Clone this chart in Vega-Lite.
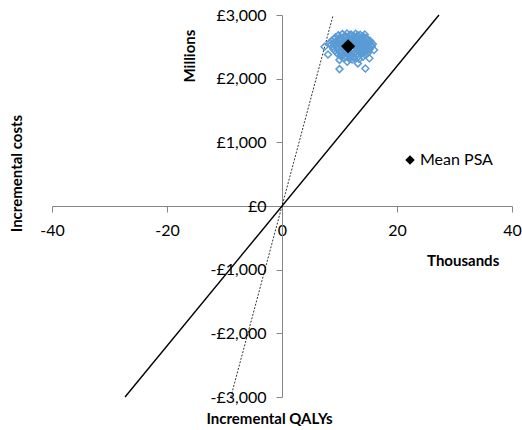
{
  "$schema": "https://vega.github.io/schema/vega-lite/v6.json",
  "width": 460,
  "height": 382,
  "autosize": {"type": "none"},
  "padding": {"left": 52, "top": 15, "right": 10, "bottom": 33},
  "background": "white",
  "config": {"font": "Lato", "view": {"stroke": null}},
  "datasets": {
    "psa": [
      {"qaly": 10.5, "cost": 2700}, {"qaly": 11.3, "cost": 2710}, {"qaly": 12.0, "cost": 2695}, {"qaly": 12.8, "cost": 2705}, {"qaly": 13.6, "cost": 2690},
      {"qaly": 9.8, "cost": 2680}, {"qaly": 11.0, "cost": 2675}, {"qaly": 11.8, "cost": 2685}, {"qaly": 12.5, "cost": 2670}, {"qaly": 13.2, "cost": 2680}, {"qaly": 14.1, "cost": 2665},
      {"qaly": 9.3, "cost": 2650}, {"qaly": 10.2, "cost": 2645}, {"qaly": 10.9, "cost": 2655}, {"qaly": 11.6, "cost": 2640}, {"qaly": 12.3, "cost": 2650}, {"qaly": 13.0, "cost": 2660}, {"qaly": 13.8, "cost": 2645}, {"qaly": 14.6, "cost": 2640},
      {"qaly": 9.0, "cost": 2620}, {"qaly": 9.8, "cost": 2615}, {"qaly": 10.5, "cost": 2625}, {"qaly": 11.2, "cost": 2610}, {"qaly": 12.0, "cost": 2620}, {"qaly": 12.7, "cost": 2630}, {"qaly": 13.4, "cost": 2615}, {"qaly": 14.2, "cost": 2620}, {"qaly": 15.0, "cost": 2605},
      {"qaly": 8.6, "cost": 2590}, {"qaly": 9.4, "cost": 2585}, {"qaly": 10.1, "cost": 2595}, {"qaly": 10.8, "cost": 2580}, {"qaly": 11.5, "cost": 2590}, {"qaly": 12.2, "cost": 2600}, {"qaly": 12.9, "cost": 2585}, {"qaly": 13.7, "cost": 2590}, {"qaly": 14.5, "cost": 2580}, {"qaly": 15.3, "cost": 2595},
      {"qaly": 8.3, "cost": 2560}, {"qaly": 9.1, "cost": 2555}, {"qaly": 9.8, "cost": 2565}, {"qaly": 10.6, "cost": 2550}, {"qaly": 11.3, "cost": 2560}, {"qaly": 12.0, "cost": 2570}, {"qaly": 12.8, "cost": 2555}, {"qaly": 13.5, "cost": 2560}, {"qaly": 14.3, "cost": 2550}, {"qaly": 15.1, "cost": 2565}, {"qaly": 15.8, "cost": 2545},
      {"qaly": 8.5, "cost": 2530}, {"qaly": 9.3, "cost": 2525}, {"qaly": 10.0, "cost": 2535}, {"qaly": 10.8, "cost": 2520}, {"qaly": 11.6, "cost": 2530}, {"qaly": 12.4, "cost": 2540}, {"qaly": 13.1, "cost": 2525}, {"qaly": 13.9, "cost": 2530}, {"qaly": 14.7, "cost": 2520}, {"qaly": 15.5, "cost": 2535},
      {"qaly": 8.8, "cost": 2500}, {"qaly": 9.6, "cost": 2495}, {"qaly": 10.4, "cost": 2505}, {"qaly": 11.1, "cost": 2490}, {"qaly": 11.9, "cost": 2500}, {"qaly": 12.6, "cost": 2510}, {"qaly": 13.4, "cost": 2495}, {"qaly": 14.1, "cost": 2500}, {"qaly": 14.9, "cost": 2490}, {"qaly": 15.6, "cost": 2505},
      {"qaly": 8.9, "cost": 2470}, {"qaly": 9.7, "cost": 2465}, {"qaly": 10.5, "cost": 2475}, {"qaly": 11.3, "cost": 2460}, {"qaly": 12.1, "cost": 2470}, {"qaly": 12.9, "cost": 2480}, {"qaly": 13.6, "cost": 2465}, {"qaly": 14.4, "cost": 2470}, {"qaly": 15.2, "cost": 2460},
      {"qaly": 9.2, "cost": 2440}, {"qaly": 10.0, "cost": 2435}, {"qaly": 10.8, "cost": 2445}, {"qaly": 11.6, "cost": 2430}, {"qaly": 12.3, "cost": 2440}, {"qaly": 13.1, "cost": 2450}, {"qaly": 13.9, "cost": 2435}, {"qaly": 14.7, "cost": 2440},
      {"qaly": 9.5, "cost": 2410}, {"qaly": 10.3, "cost": 2405}, {"qaly": 11.1, "cost": 2415}, {"qaly": 11.9, "cost": 2400}, {"qaly": 12.7, "cost": 2410}, {"qaly": 13.4, "cost": 2420}, {"qaly": 14.2, "cost": 2405}, {"qaly": 15.0, "cost": 2410},
      {"qaly": 9.8, "cost": 2380}, {"qaly": 10.6, "cost": 2375}, {"qaly": 11.4, "cost": 2385}, {"qaly": 12.2, "cost": 2370}, {"qaly": 13.0, "cost": 2380}, {"qaly": 13.8, "cost": 2390}, {"qaly": 14.5, "cost": 2375},
      {"qaly": 10.3, "cost": 2350}, {"qaly": 11.1, "cost": 2345}, {"qaly": 11.9, "cost": 2355}, {"qaly": 12.6, "cost": 2340}, {"qaly": 13.3, "cost": 2350}, {"qaly": 14.1, "cost": 2345},
      {"qaly": 10.8, "cost": 2320}, {"qaly": 11.7, "cost": 2315}, {"qaly": 12.5, "cost": 2325}, {"qaly": 13.4, "cost": 2310},
      {"qaly": 7.4, "cost": 2500}, {"qaly": 8.0, "cost": 2380}, {"qaly": 10.0, "cost": 2295}, {"qaly": 10.0, "cost": 2150},
      {"qaly": 11.35, "cost": 2265}, {"qaly": 13.2, "cost": 2240}, {"qaly": 14.5, "cost": 2160}, {"qaly": 16.0, "cost": 2450},
      {"qaly": 15.2, "cost": 2320}, {"qaly": 14.4, "cost": 2695}, {"qaly": 15.2, "cost": 2550}, {"qaly": 12.2, "cost": 2300}
    ]
  },
  "layer": [
    {
      "data": {"values": [{"qaly": -27.3, "cost": -3000}, {"qaly": 27.3, "cost": 3000}]},
      "mark": {"type": "line", "color": "#000000", "strokeWidth": 1.4},
      "encoding": {
        "x": {
          "field": "qaly", "type": "quantitative",
          "scale": {"domain": [-40, 40], "nice": false, "zero": false},
          "axis": {
            "orient": "bottom", "offset": -191, "values": [-40, -20, 0, 20, 40],
            "grid": false, "domainColor": "#868686", "tickColor": "#868686", "tickSize": 6,
            "labelFontSize": 16, "labelColor": "#000000", "labelPadding": 10,
            "labelFlush": false, "labelOverlap": false,
            "labelExpr": "datum.value < 0 ? '-' + abs(datum.value) : '' + datum.value",
            "title": "Incremental QALYs", "titleX": 217, "titleY": 205,
            "titleFontSize": 15, "titleFontWeight": "bold", "titleColor": "#000000"
          }
        },
        "y": {
          "field": "cost", "type": "quantitative",
          "scale": {"domain": [-3000, 3000], "nice": false, "zero": false},
          "axis": {
            "orient": "left", "offset": -230, "values": [-3000, -2000, -1000, 0, 1000, 2000, 3000],
            "grid": false, "domainColor": "#868686", "tickColor": "#868686", "tickSize": 6,
            "labelFontSize": 16, "labelColor": "#000000", "labelPadding": 10,
            "labelFlush": false, "labelOverlap": false,
            "labelExpr": "datum.value < 0 ? '-£' + format(-datum.value, ',') : '£' + format(datum.value, ',')",
            "title": "Incremental costs", "titleX": -258, "titleY": 158,
            "titleFontSize": 15, "titleFontWeight": "bold", "titleColor": "#000000"
          }
        }
      }
    },
    {
      "data": {"values": [{"qaly": -8.9, "cost": -3000}, {"qaly": 8.9, "cost": 3000}]},
      "mark": {"type": "line", "color": "#000000", "strokeWidth": 0.8, "strokeDash": [2, 1.5]},
      "encoding": {
        "x": {"field": "qaly", "type": "quantitative"},
        "y": {"field": "cost", "type": "quantitative"}
      }
    },
    {
      "data": {"name": "psa"},
      "mark": {"type": "point", "shape": "diamond", "filled": false, "size": 48, "strokeWidth": 1.5, "color": "#5B9BD5", "opacity": 1},
      "encoding": {
        "x": {"field": "qaly", "type": "quantitative"},
        "y": {"field": "cost", "type": "quantitative"}
      }
    },
    {
      "data": {"values": [{"series": "Mean PSA", "qaly": 11.5, "cost": 2510}]},
      "mark": {"type": "point", "filled": true, "color": "#000000", "size": 200, "opacity": 1},
      "encoding": {
        "x": {"field": "qaly", "type": "quantitative"},
        "y": {"field": "cost", "type": "quantitative"},
        "shape": {
          "field": "series", "type": "nominal",
          "scale": {"range": ["diamond"]},
          "legend": {
            "orient": "none", "legendX": 350, "legendY": 137, "title": null, "padding": 0,
            "labelFontSize": 16, "labelColor": "#000000", "symbolSize": 90, "labelOffset": 2
          }
        }
      }
    },
    {
      "data": {"values": [{}]},
      "mark": {"type": "text", "text": "Millions", "angle": 270, "fontSize": 15, "fontWeight": "bold", "color": "#000000"},
      "encoding": {"x": {"datum": -16}, "y": {"datum": 2355}}
    },
    {
      "data": {"values": [{}]},
      "mark": {"type": "text", "text": "Thousands", "fontSize": 15, "fontWeight": "bold", "color": "#000000"},
      "encoding": {"x": {"datum": 31.5}, "y": {"datum": -860}}
    }
  ]
}
